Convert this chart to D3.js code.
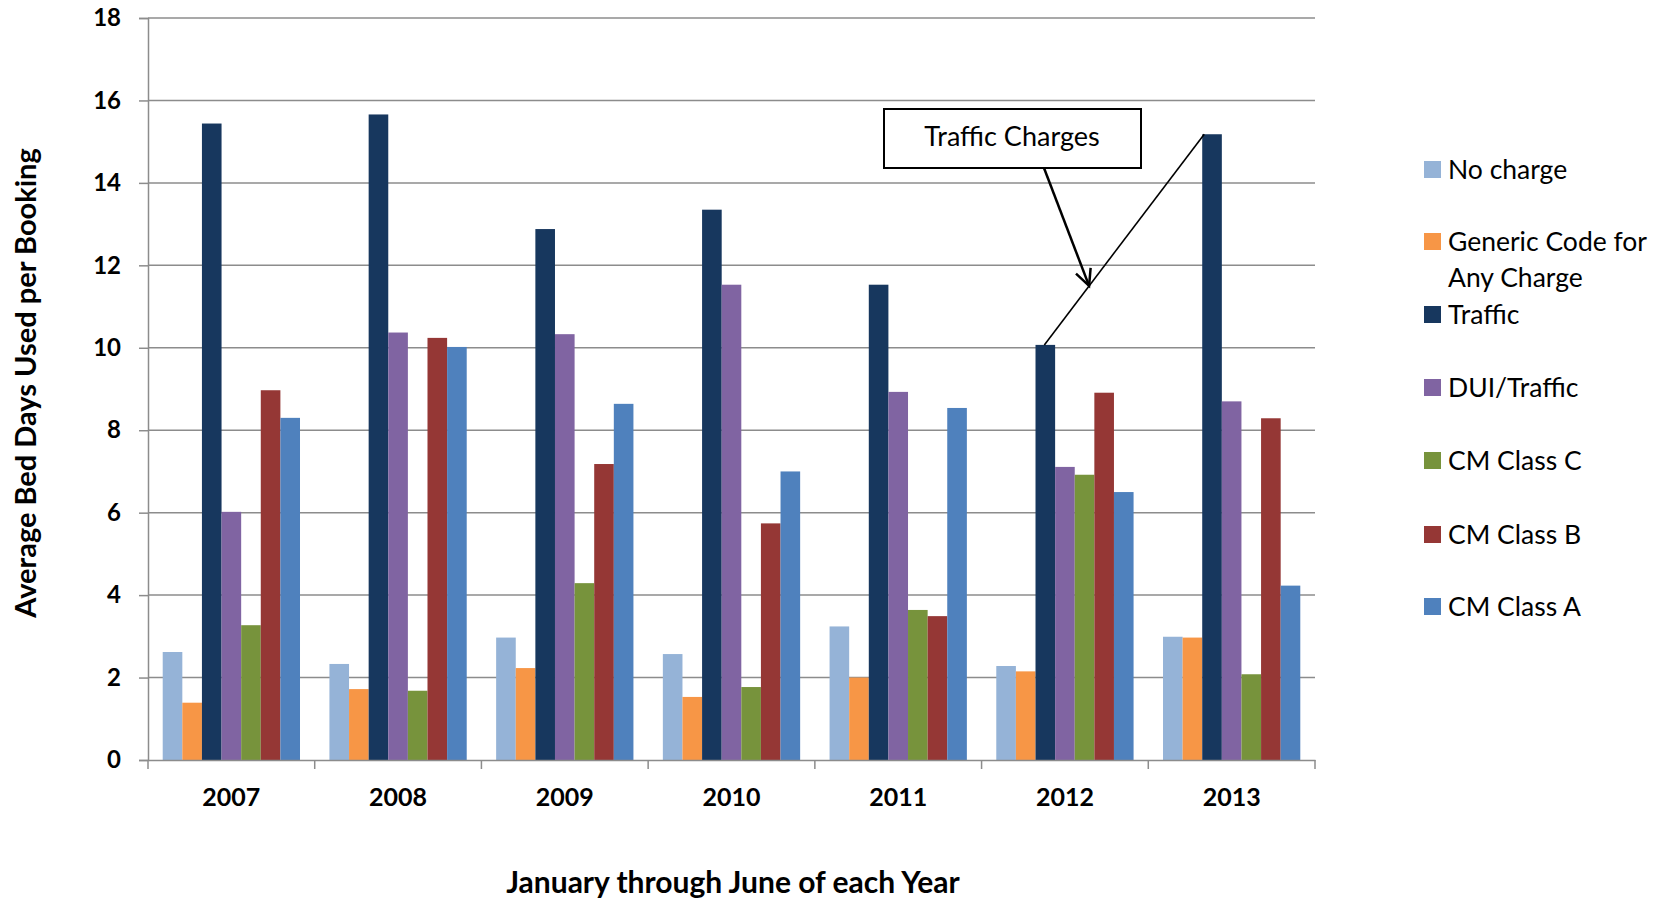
<!DOCTYPE html>
<html>
<head>
<meta charset="utf-8">
<script src="https://cdn.jsdelivr.net/npm/d3@7"></script>
<style>
  html, body { margin: 0; padding: 0; background: #fff; }
  svg { display: block; }
</style>
</head>
<body>
<svg id="chart" width="1667" height="902"></svg>
<script>
const years = ["2007", "2008", "2009", "2010", "2011", "2012", "2013"];
const seriesNames = ["No charge", "Generic Code for Any Charge", "Traffic", "DUI/Traffic", "CM Class C", "CM Class B", "CM Class A"];
const seriesColors = ["#95B3D7", "#F79646", "#17375E", "#8064A2", "#77933C", "#953735", "#4F81BD"];
const noCharge   = [2.62, 2.33, 2.97, 2.57, 3.24, 2.28, 2.99];
const genericCode= [1.39, 1.72, 2.23, 1.53, 2.00, 2.15, 2.97];
const traffic    = [15.44, 15.66, 12.88, 13.35, 11.53, 10.07, 15.18];
const duiTraffic = [6.02, 10.37, 10.33, 11.53, 8.93, 7.11, 8.70];
const cmClassC   = [3.27, 1.68, 4.29, 1.77, 3.64, 6.92, 2.08];
const cmClassB   = [8.97, 10.24, 7.18, 5.74, 3.49, 8.91, 8.29];
const cmClassA   = [8.30, 10.02, 8.64, 7.00, 8.54, 6.50, 4.23];
const yTicks = [0, 2, 4, 6, 8, 10, 12, 14, 16, 18];
const yTitle = "Average Bed Days Used per Booking";
const xTitle = "January through June of each Year";
const annotationText = "Traffic Charges";

const seriesValues = [noCharge, genericCode, traffic, duiTraffic, cmClassC, cmClassB, cmClassA];

(function () {
const svg = d3.select("#chart");
const mLeft = 148, mRight = 1315, mTop = 18, mBottom = 760;

const x0 = d3.scaleBand().domain(years).range([mLeft, mRight]).paddingInner(0).paddingOuter(0);
const x1 = d3.scaleBand().domain(d3.range(seriesNames.length)).range([0, x0.bandwidth()]).paddingInner(0).paddingOuter(0.75);
const y = d3.scaleLinear().domain([0, 18]).range([mBottom, mTop]);

// gridlines
svg.append("g").selectAll("line").data(yTicks.filter(d => d > 0)).join("line")
  .attr("x1", mLeft).attr("x2", mRight)
  .attr("y1", d => y(d)).attr("y2", d => y(d))
  .attr("stroke", "#8c8c8c").attr("stroke-width", 1.5);

// bars
const groups = svg.append("g").selectAll("g").data(years).join("g")
  .attr("transform", d => `translate(${x0(d)},0)`);
groups.selectAll("rect").data((yr, i) => seriesValues.map((vals, s) => ({ s, v: vals[i] }))).join("rect")
  .attr("x", d => x1(d.s))
  .attr("width", x1.bandwidth())
  .attr("y", d => y(d.v))
  .attr("height", d => y(0) - y(d.v))
  .attr("fill", d => seriesColors[d.s]);

// y axis
const yAxis = d3.axisLeft(y).tickValues(yTicks).tickSize(9).tickPadding(18).tickFormat(d3.format("d"));
const gy = svg.append("g").attr("transform", `translate(${mLeft},0)`).call(yAxis);
gy.select(".domain").attr("stroke", "#8c8c8c").attr("stroke-width", 1.5);
gy.selectAll(".tick line").attr("stroke", "#8c8c8c").attr("stroke-width", 1.5);
gy.selectAll(".tick text").attr("font-family", "Lato").attr("font-weight", "bold")
  .attr("font-size", 24).attr("fill", "#000");

// x axis
const xAxis = d3.axisBottom(x0).tickSize(0).tickPadding(28);
const gx = svg.append("g").attr("transform", `translate(0,${mBottom})`).call(xAxis);
gx.select(".domain").attr("stroke", "#8c8c8c").attr("stroke-width", 1.5);
gx.selectAll(".tick text").attr("font-family", "Lato").attr("font-weight", "bold")
  .attr("font-size", 25).attr("fill", "#000");
const bounds = years.map(d => x0(d)).concat([mRight]);
gx.append("g").selectAll("line").data(bounds).join("line")
  .attr("x1", d => d).attr("x2", d => d).attr("y1", 0).attr("y2", 9)
  .attr("stroke", "#8c8c8c").attr("stroke-width", 1.5);

// axis titles
svg.append("text").attr("x", 733).attr("y", 893).attr("text-anchor", "middle")
  .attr("font-family", "Lato").attr("font-weight", "bold").attr("font-size", 30).text(xTitle);
svg.append("text").attr("transform", "translate(36,383) rotate(-90)").attr("text-anchor", "middle")
  .attr("font-family", "Lato").attr("font-weight", "bold").attr("font-size", 29).text(yTitle);

// legend
const legendY = [170, 242, 315, 388, 461, 535, 607];
const lg = svg.append("g");
seriesNames.forEach((name, i) => {
  const g = lg.append("g").attr("transform", `translate(1424,${legendY[i]})`);
  g.append("rect").attr("x", 0).attr("y", -9).attr("width", 17).attr("height", 17).attr("fill", seriesColors[i]);
  const txt = g.append("text").attr("x", 24).attr("y", 0).attr("dy", "0.35em")
    .attr("font-family", "Lato").attr("font-size", 26.5).attr("fill", "#000");
  if (name === "Generic Code for Any Charge") {
    txt.append("tspan").attr("x", 24).text("Generic Code for");
    txt.append("tspan").attr("x", 24).attr("dy", 36).text("Any Charge");
  } else {
    txt.text(name);
  }
});

// annotation
const ann = svg.append("g");
ann.append("rect").attr("x", 884).attr("y", 109).attr("width", 257).attr("height", 59)
  .attr("fill", "#fff").attr("stroke", "#000").attr("stroke-width", 2);
ann.append("text").attr("x", 1012).attr("y", 137).attr("dy", "0.35em").attr("text-anchor", "middle")
  .attr("font-family", "Lato").attr("font-size", 27).text(annotationText);

// connector line between Traffic bars of 2012 and 2013
const tIdx = 2;
const p1 = [x0("2012") + x1(tIdx) + x1.bandwidth() * 0.45, y(traffic[5])];
const p2 = [x0("2013") + x1(tIdx) + 2, y(traffic[6])];
svg.append("line").attr("x1", p1[0]).attr("y1", p1[1]).attr("x2", p2[0]).attr("y2", p2[1])
  .attr("stroke", "#000").attr("stroke-width", 1.6);

// arrow from box to the connector line
const a0 = [1044, 168];
const frac = 0.28;
const a1 = [p1[0] + (p2[0] - p1[0]) * frac, p1[1] + (p2[1] - p1[1]) * frac];
svg.append("line").attr("x1", a0[0]).attr("y1", a0[1]).attr("x2", a1[0]).attr("y2", a1[1])
  .attr("stroke", "#000").attr("stroke-width", 2.5);
const ang = Math.atan2(a1[1] - a0[1], a1[0] - a0[0]);
const hl = 18, ha = 0.45;
const h1 = [a1[0] - hl * Math.cos(ang - ha), a1[1] - hl * Math.sin(ang - ha)];
const h2 = [a1[0] - hl * Math.cos(ang + ha), a1[1] - hl * Math.sin(ang + ha)];
svg.append("path").attr("d", `M${h1[0]},${h1[1]} L${a1[0]},${a1[1]} L${h2[0]},${h2[1]}`)
  .attr("fill", "none").attr("stroke", "#000").attr("stroke-width", 2.5);
})();
</script>
</body>
</html>
